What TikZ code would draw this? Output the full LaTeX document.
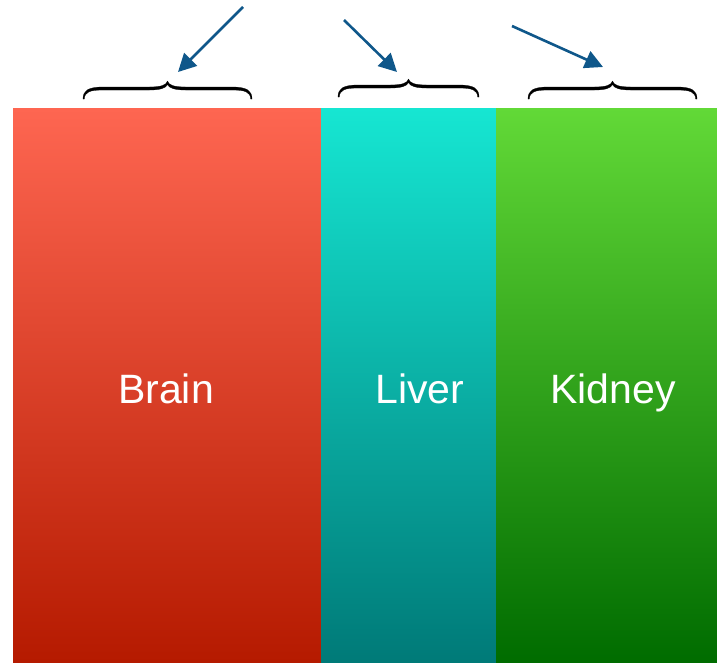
\documentclass[tikz,border=0pt]{standalone}
\usepackage{fontspec}
\setmainfont{Liberation Sans}
\usetikzlibrary{arrows.meta}
\definecolor{redtop}{HTML}{FE6651}
\definecolor{redbot}{HTML}{B51A00}
\definecolor{tealtop}{HTML}{16E6D2}
\definecolor{tealbot}{HTML}{007A78}
\definecolor{greentop}{HTML}{62D937}
\definecolor{greenbot}{HTML}{006C00}
\definecolor{arrowblue}{HTML}{0F578A}
\tikzset{
  organlabel/.style={text=white, font=\fontsize{41}{41}\selectfont, anchor=base, inner sep=0pt},
  bracefill/.style={fill=black, draw=black, line width=0.3pt, line join=round},
  pointer/.style={draw=arrowblue, line width=2.6pt, -{Triangle[length=18pt,width=18pt]}}
}
% #1 left x, #2 right x, #3 base y of the ends (image coordinates, y downwards)
\newcommand{\curlyfill}[3]{%
  \pgfmathsetmacro{\cc}{(#1+#2)/2}%
  \fill[bracefill]
    (#1,#3) .. controls (#1,{#3-9}) and ({#1+6},{#3-11.5}) .. ({#1+18},{#3-12})
    -- ({\cc-18},{#3-12}) .. controls ({\cc-6},{#3-12}) and ({\cc-1},{#3-14}) .. (\cc,{#3-18})
    .. controls ({\cc+1},{#3-14}) and ({\cc+6},{#3-12}) .. ({\cc+18},{#3-12})
    -- ({#2-18},{#3-12}) .. controls ({#2-6},{#3-11.5}) and (#2,{#3-9}) .. (#2,#3)
    -- ({#2-1.3},#3) .. controls ({#2-1.6},{#3-7}) and ({#2-7},{#3-8.8}) .. ({#2-18},{#3-9})
    -- ({\cc+18},{#3-9}) .. controls ({\cc+7},{#3-9}) and ({\cc+1.5},{#3-11}) .. (\cc,{#3-14.5})
    .. controls ({\cc-1.5},{#3-11}) and ({\cc-7},{#3-9}) .. ({\cc-18},{#3-9})
    -- ({#1+18},{#3-9}) .. controls ({#1+7},{#3-8.8}) and ({#1+1.6},{#3-7}) .. ({#1+1.3},#3)
    -- cycle;}
\begin{document}
\begin{tikzpicture}[x=1pt,y=-1pt]
\useasboundingbox (0,0) rectangle (717,662);
% bands
\fill[top color=redtop, bottom color=redbot] (13,108) rectangle (321,662);
\fill[top color=tealtop, bottom color=tealbot] (321,108) rectangle (496,662);
\fill[top color=greentop, bottom color=greenbot] (496,108) rectangle (717,662);
% labels
\node[organlabel] (brain) at (166,403) {Brain};
\node[organlabel] (liver) at (420,403) {Liver};
\node[organlabel] (kidney) at (613,403) {Kidney};
% braces
\curlyfill{83}{252}{99}
\curlyfill{338}{479}{97}
\curlyfill{528}{697}{99}
% arrows
\coordinate (a1s) at (243,7);
\coordinate (a1e) at (178,72);
\coordinate (a2s) at (344,20);
\coordinate (a2e) at (397,72);
\coordinate (a3s) at (512,26);
\coordinate (a3e) at (603,67);
\draw[pointer] (a1s) -- (a1e);
\draw[pointer] (a2s) -- (a2e);
\draw[pointer] (a3s) -- (a3e);
\end{tikzpicture}
\end{document}
